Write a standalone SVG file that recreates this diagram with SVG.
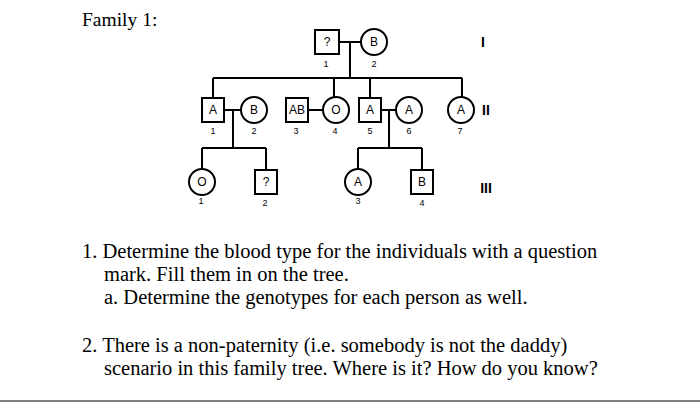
<svg xmlns="http://www.w3.org/2000/svg" width="700" height="404" viewBox="0 0 700 404">
<style>
.s{fill:#fff;stroke:#000;stroke-width:2}
.l{stroke:#000;stroke-width:2;fill:none}
.t{font-family:"Liberation Sans",Arial,sans-serif;font-size:12px;text-anchor:middle;dominant-baseline:central}
.n{font-family:"Liberation Sans",Arial,sans-serif;font-size:9px;text-anchor:middle;dominant-baseline:central}
.r{font-family:"Liberation Sans",Arial,sans-serif;font-size:14px;font-weight:bold;text-anchor:middle;dominant-baseline:central}
.q{font-family:"Liberation Serif","Times New Roman",serif;font-size:20.5px}
.f{font-family:"Liberation Serif","Times New Roman",serif;font-size:19.5px}
</style>
<rect width="700" height="404" fill="#fff"/>
<text class="f" x="82" y="26">Family 1:</text>
<g id="connectors">
<path class="l" d="M339 42H361 M350 42V78 M213 78H462 M213 78V98 M334 78V97 M370 78V98 M462 78V97"/>
<path class="l" d="M224 110H241 M233 110V148 M202 148H266 M202 148V169 M266 148V170"/>
<path class="l" d="M308 110H323"/>
<path class="l" d="M381 110H396 M389 110V148 M358 148H422 M358 148V169 M422 148V170"/>
</g>
<g id="I1"><rect class="s" x="315" y="30" width="24" height="24"/><text class="t" x="327" y="42">?</text><text class="n" x="326" y="64">1</text></g>
<g id="I2"><circle class="s" cx="374" cy="42" r="13"/><text class="t" x="374" y="42">B</text><text class="n" x="374" y="64">2</text></g>
<g id="II1"><rect class="s" x="202" y="98" width="22" height="24"/><text class="t" x="213" y="110">A</text><text class="n" x="213" y="131">1</text></g>
<g id="II2"><circle class="s" cx="254" cy="110" r="13"/><text class="t" x="254" y="110">B</text><text class="n" x="254" y="131">2</text></g>
<g id="II3"><rect class="s" x="286" y="98" width="22" height="24"/><text class="t" x="297" y="110">AB</text><text class="n" x="296" y="131">3</text></g>
<g id="II4"><circle class="s" cx="336" cy="110" r="13"/><text class="t" x="336" y="110">O</text><text class="n" x="335" y="131">4</text></g>
<g id="II5"><rect class="s" x="359" y="98" width="22" height="24"/><text class="t" x="370" y="110">A</text><text class="n" x="370" y="131">5</text></g>
<g id="II6"><circle class="s" cx="409" cy="110" r="13"/><text class="t" x="409" y="110">A</text><text class="n" x="409" y="131">6</text></g>
<g id="II7"><circle class="s" cx="461" cy="110" r="13"/><text class="t" x="461" y="110">A</text><text class="n" x="460" y="131">7</text></g>
<g id="III1"><circle class="s" cx="202" cy="182" r="13"/><text class="t" x="202" y="182">O</text><text class="n" x="201" y="201">1</text></g>
<g id="III2"><rect class="s" x="255" y="170" width="22" height="24"/><text class="t" x="266" y="182">?</text><text class="n" x="265" y="203">2</text></g>
<g id="III3"><circle class="s" cx="358" cy="182" r="13"/><text class="t" x="358" y="182">A</text><text class="n" x="358" y="201">3</text></g>
<g id="III4"><rect class="s" x="411" y="170" width="22" height="24"/><text class="t" x="422" y="182">B</text><text class="n" x="422" y="203">4</text></g>
<text class="r" x="483" y="42">I</text>
<text class="r" x="486" y="110">II</text>
<text class="r" x="486" y="188">III</text>
<text class="q" x="82" y="258">1. Determine the blood type for the individuals with a question</text>
<text class="q" x="104" y="281">mark. Fill them in on the tree.</text>
<text class="q" x="104" y="304">a. Determine the genotypes for each person as well.</text>
<text class="q" x="82" y="352">2. There is a non-paternity (i.e. somebody is not the daddy)</text>
<text class="q" x="104" y="375">scenario in this family tree. Where is it? How do you know?</text>
<line x1="0" y1="401" x2="700" y2="401" stroke="#000" stroke-width="1"/>
</svg>
